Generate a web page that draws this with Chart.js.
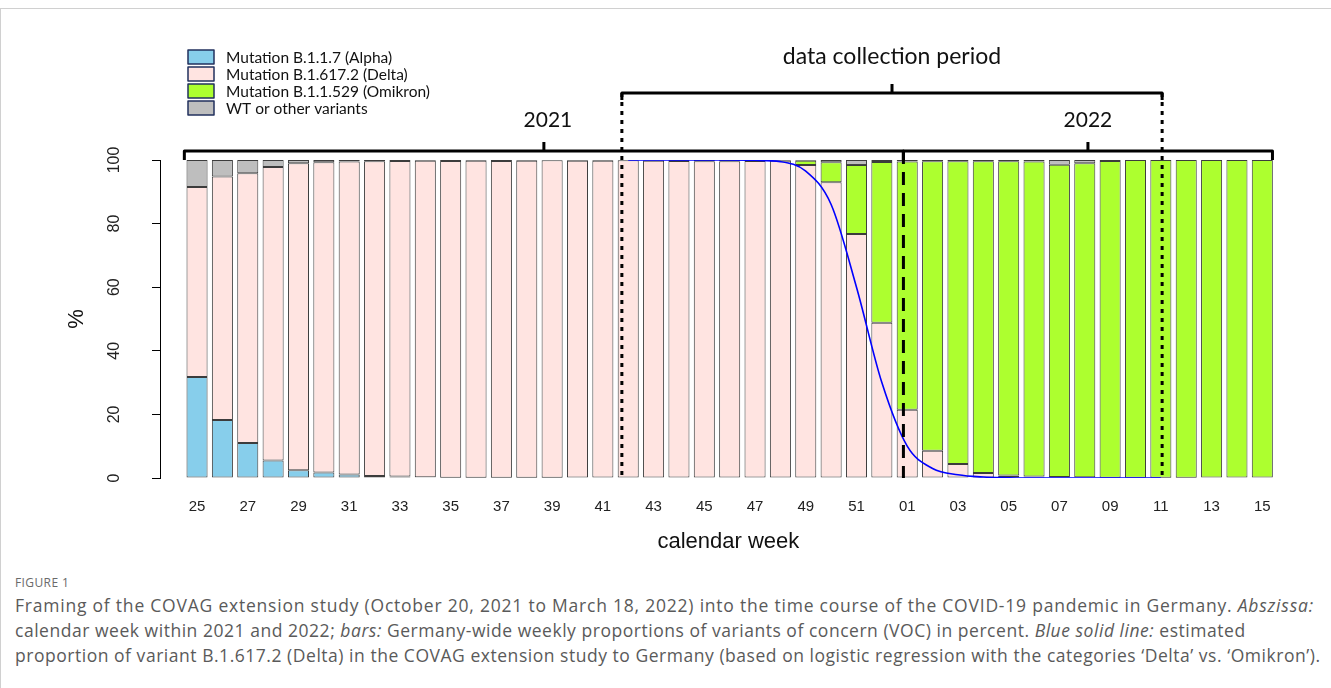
<!DOCTYPE html>
<html>
<head>
<meta charset="utf-8">
<script src="https://cdn.jsdelivr.net/npm/chart.js@4.4.1/dist/chart.umd.min.js"></script>
<style>
  body { margin: 0; background: #fff; width: 1331px; height: 688px; overflow: hidden; position: relative; }
  #frame { position: absolute; left: 0; top: 8px; width: 1331px; height: 680px; border-top: 1px solid #d0d0d0; border-left: 1px solid #d0d0d0; }
  #wrap { position: absolute; left: 0; top: 0; width: 1331px; height: 560px; }
  #cap { position: absolute; left: 15px; top: 573px; color: #5a5a5a; font-family: 'Open Sans', sans-serif; white-space: nowrap; }
  #cap .fig { font-size: 12px; letter-spacing: 0.4px; color: #6a6a6a; height: 20px; line-height: 20px; }
  #cap .txt { font-size: 17.5px; line-height: 25px; height: 25px; }
  #cap .l1 { letter-spacing: 0.78px; }
  #cap .l2, #cap .l3 { letter-spacing: 0.53px; }
</style>
</head>
<body>
<div id="frame"></div>
<div id="wrap"><canvas id="vocChart" width="1331" height="560"></canvas></div>
<div id="cap">
  <div class="fig">FIGURE 1</div>
  <div class="txt l1">Framing of the COVAG extension study (October 20, 2021 to March 18, 2022) into the time course of the COVID-19 pandemic in Germany. <i>Abszissa:</i></div>
  <div class="txt l2">calendar week within 2021 and 2022; <i>bars:</i> Germany-wide weekly proportions of variants of concern (VOC) in percent. <i>Blue solid line:</i> estimated</div>
  <div class="txt l3">proportion of variant B.1.617.2 (Delta) in the COVAG extension study to Germany (based on logistic regression with the categories ‘Delta’ vs. ‘Omikron’).</div>
</div>
<script>
// calendar weeks 25/2021 .. 15/2022
const weeks = ['25','26','27','28','29','30','31','32','33','34','35','36','37','38','39','40','41','42','43','44','45','46','47','48','49','50','51','52',
               '01','02','03','04','05','06','07','08','09','10','11','12','13','14','15'];

// weekly proportions (%)
const alpha   = [31.8,18.2,11.0,5.5,2.4,1.7,1.1,0.6,0.5,0.2,0.1,0.1,0.1,0.1,0.1,0,0,0,0,0,0,0,0,0,0,0,0,0,
                 0,0,0,0,0,0,0,0,0,0,0,0,0,0,0];
const delta   = [59.7,76.6,84.8,92.3,96.6,97.6,98.4,99.0,99.2,99.6,99.6,99.7,99.6,99.7,99.8,99.8,99.8,99.9,99.8,99.7,99.6,99.6,99.7,99.8,98.4,93.0,76.7,48.8,
                 21.5,8.6,4.4,1.6,0.8,0.5,0.3,0.2,0.1,0.1,0.1,0.1,0,0,0];
const omikron = [0,0,0,0,0,0,0,0,0,0,0,0,0,0,0,0,0,0,0,0,0,0,0,0,1.4,6.3,21.7,50.6,
                 78.0,91.0,95.2,98.0,98.8,99.0,98.2,98.8,99.6,99.9,99.9,99.9,100,100,100];
const other   = [8.5,5.2,4.2,2.2,1.0,0.7,0.5,0.4,0.3,0.2,0.3,0.2,0.3,0.2,0.1,0.2,0.2,0.1,0.2,0.3,0.4,0.4,0.3,0.2,0.2,0.7,1.6,0.6,
                 0.5,0.4,0.4,0.4,0.4,0.5,1.5,1.0,0.3,0,0,0,0,0,0];

// estimated Delta share in the study (logistic fit), weeks 42/2021 .. 11/2022
const fitStart = 17;
const fitDelta = [100,100,100,100,100,99.9,99.5,96.5,86,60,30,10,3,1,0.3,0.1,0,0,0,0,0,0];

// markers in week-index units
const studyStart = 16.75, studyEnd = 38.05, yearBreak = 27.85, lastEdge = 42.4;

const pts = arr => arr.map((v, i) => ({ x: i, y: v }));

const barStyle = { borderColor: '#3c3c3c', borderWidth: 1, borderSkipped: false, barPercentage: 0.83, categoryPercentage: 1 };

function bracket(ctx, x0, x1, y, drop, rise) {
  const mid = (x0 + x1) / 2;
  ctx.beginPath();
  ctx.moveTo(x0, y + drop); ctx.lineTo(x0, y); ctx.lineTo(x1, y); ctx.lineTo(x1, y + drop);
  ctx.moveTo(mid, y); ctx.lineTo(mid, y - rise);
  ctx.stroke();
  return mid;
}

const overlay = {
  id: 'overlay',
  afterDatasetsDraw(chart) {
    const { ctx, chartArea: { top, bottom }, scales: { x } } = chart;
    const px = v => x.getPixelForValue(v);
    ctx.save();
    ctx.strokeStyle = '#000';
    ctx.lineWidth = 3;
    ctx.lineJoin = 'round';

    ctx.setLineDash([4, 5]);
    [studyStart, studyEnd].forEach(v => {
      ctx.beginPath(); ctx.moveTo(px(v), top - 67); ctx.lineTo(px(v), bottom); ctx.stroke();
    });
    ctx.setLineDash([13, 8]);
    ctx.beginPath(); ctx.moveTo(px(yearBreak), top - 9); ctx.lineTo(px(yearBreak), bottom); ctx.stroke();
    ctx.setLineDash([]);

    const m21 = bracket(ctx, px(-0.5), px(yearBreak), top - 9, 9, 9);
    const m22 = bracket(ctx, px(yearBreak), px(lastEdge), top - 9, 9, 9);
    const mStudy = bracket(ctx, px(studyStart), px(studyEnd), top - 67, 7, 9);

    ctx.fillStyle = '#111';
    ctx.textAlign = 'center';
    ctx.textBaseline = 'middle';
    ctx.font = '21px Lato';
    ctx.fillText('2021', m21 + 4, top - 40);
    ctx.fillText('2022', m22, top - 40);
    ctx.font = '23px Lato';
    ctx.fillText('data collection period', mStudy, top - 103);

    // legend
    ctx.textAlign = 'left';
    ctx.font = '15.5px Lato';
    ctx.lineWidth = 1.5;
    chart.data.datasets.filter(d => d.type === 'bar').forEach((d, k) => {
      const yb = 50 + k * 17;
      ctx.fillStyle = d.backgroundColor;
      ctx.fillRect(188, yb, 26, 14);
      ctx.strokeStyle = '#22305e';
      ctx.strokeRect(188, yb, 26, 14);
      ctx.fillStyle = '#111';
      ctx.fillText(d.label, 226, yb + 7.5);
    });

    // axis title centred like the R plot region
    ctx.textAlign = 'center';
    ctx.font = '22px "Liberation Sans"';
    ctx.fillText('calendar week', (px(-0.5) + px(lastEdge)) / 2, 542);
    ctx.restore();
  }
};

const tickFont = { family: 'Liberation Sans', size: 15 };

new Chart(document.getElementById('vocChart'), {
  data: {
    datasets: [
      { type: 'line', label: 'fit', data: fitDelta.map((v, i) => ({ x: fitStart + i, y: v })), stack: 'fit',
        borderColor: '#0000ff', borderWidth: 1.6, pointRadius: 0, cubicInterpolationMode: 'monotone', order: -1 },
      { type: 'bar', label: 'Mutation B.1.1.7 (Alpha)', data: pts(alpha), backgroundColor: '#87ceeb', ...barStyle },
      { type: 'bar', label: 'Mutation B.1.617.2 (Delta)', data: pts(delta), backgroundColor: '#ffe4e1', ...barStyle },
      { type: 'bar', label: 'Mutation B.1.1.529 (Omikron)', data: pts(omikron), backgroundColor: '#adff2f', ...barStyle },
      { type: 'bar', label: 'WT or other variants', data: pts(other), backgroundColor: '#bebebe', ...barStyle }
    ]
  },
  options: {
    responsive: false,
    animation: false,
    devicePixelRatio: 1,
    layout: { padding: { top: 160, right: 56, left: 0, bottom: 0 } },
    plugins: { legend: { display: false }, tooltip: { enabled: false } },
    scales: {
      x: {
        type: 'linear', stacked: true, min: -1.46, max: 42.5, offset: false,
        afterFit: s => { s.height = 82; },
        border: { display: false },
        grid: { display: false, drawTicks: false },
        ticks: { stepSize: 2, includeBounds: false, autoSkip: false, maxRotation: 0, padding: 20,
                 color: '#222', font: tickFont, callback: v => weeks[v] ?? '' },
        title: { display: false }
      },
      y: {
        stacked: true, min: 0, max: 100,
        afterFit: s => { s.width = 160; },
        border: { display: true, color: '#000', width: 1 },
        grid: { drawOnChartArea: false, tickLength: 8, color: '#000', tickColor: '#000' },
        ticks: { stepSize: 20, minRotation: 90, maxRotation: 90, crossAlign: 'center', padding: 24,
                 color: '#222', font: { family: 'Liberation Sans', size: 16 } },
        title: { display: true, text: '%', color: '#111',
                 font: { family: 'Liberation Sans', size: 22 }, padding: { top: 64, bottom: 0 } }
      }
    }
  },
  plugins: [overlay]
});
</script>
</body>
</html>
